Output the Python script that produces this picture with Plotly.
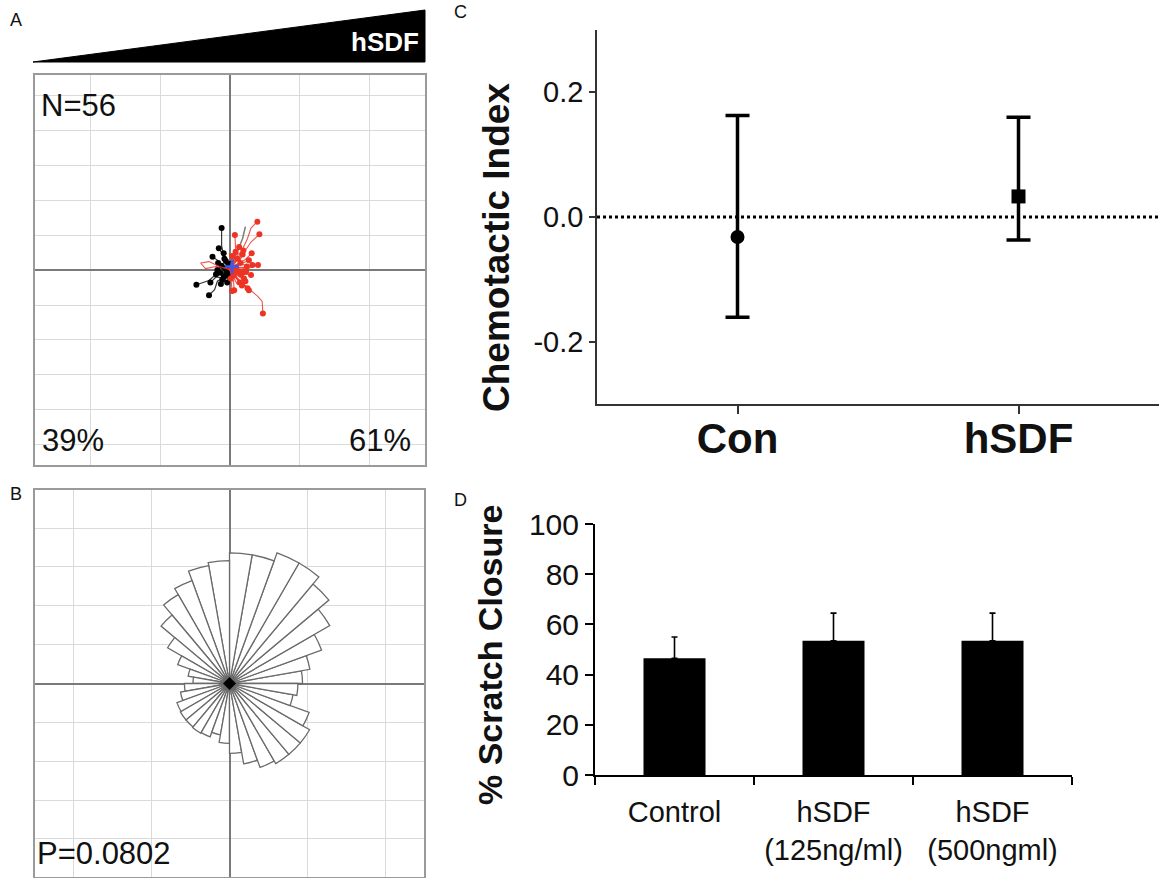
import plotly.graph_objects as go

W, H = 1159, 878

# ---------------- Panel A: cell trajectories (µm, start at origin) ----------------
black_tracks_x = [
    [0, -6, -10, -12, -12], [0, -5, -9, -16], [0, -8, -15, -25], [0, -10, -22, -30, -48],
    [0, -8, -18, -22, -30], [0, -6, -12], [0, -4, -9], [0, -7, -14], [0, -3, -6],
    [0, -5, -11], [0, -9, -18], [0, -2, -4], [0, -6, -8], [0, -10, -20], [0, -3, -7],
    [0, -5, -3], [0, -12, -17], [0, -4, -13], [0, -2, -1], [0, -8, -20, -28],
    [0, -6, -9], [0, -3, -5],
]
black_tracks_y = [
    [0, 10, 25, 35, 60], [0, 8, 20, 31], [0, 3, 12, 19], [0, -5, -8, -15, -21],
    [0, -10, -16, -28, -36], [0, 4, 6], [0, -6, -10], [0, -2, -4], [0, 5, 13],
    [0, -3, -14], [0, 2, 0], [0, -8, -18], [0, 8, 16], [0, -6, -6], [0, 3, 2],
    [0, -4, -8], [0, 8, 10], [0, -10, -20], [0, 4, 9], [0, -12, -10, -18],
    [0, 12, 24], [0, -2, -4],
]
gray_track_x = [0, 5, 12, 18, 22]
gray_track_y = [0, 15, 30, 45, 62]
red_tracks_x = [
    [0, 10, 18, 25, 30, 39], [0, 12, 20, 30, 42], [0, 3, 8, 7], [0, 10, 25, 40, 46, 47],
    [0, 4, 2, 3], [0, 8, 18, 27], [0, 12, 22, 30], [0, 15, 28, 40], [0, 10, 22, 31],
    [0, 4, 6, 8], [0, -15, -30, -42, -35, -20, 4], [0, 10, 20], [0, 8, 15], [0, 5, 6],
    [0, 12, 25], [0, 14, 27], [0, 18, 32], [0, 6, 12], [0, 4, 9], [0, 10, 18],
    [0, 7, 14], [0, 3, 5], [0, 9, 20], [0, 2, 3], [0, 12, 23], [0, 6, 11], [0, 15, 24],
    [0, 5, 16], [0, 8, 13], [0, 2, 1], [0, 10, 17], [0, 16, 22], [0, 6, 8], [0, 11, 19],
]
red_tracks_y = [
    [0, 15, 30, 45, 60, 69], [0, 10, 25, 40, 51], [0, 15, 30, 50], [0, -12, -25, -38, -45, -62],
    [0, -10, -20, -30], [0, -8, -20, -29], [0, -2, -6, -7], [0, 4, 3, 7], [0, 8, 15, 24],
    [0, 8, 18, 26], [0, 5, 12, 10, 2, 5, 2], [0, -6, -12], [0, 5, 10], [0, -15, -29],
    [0, -15, -26], [0, 8, 14], [0, 2, 7], [0, -4, -2], [0, 6, 4], [0, 14, 22],
    [0, -10, -18], [0, -3, -8], [0, 0, -3], [0, 10, 20], [0, -5, -2], [0, 12, 16], [0, 10, 5],
    [0, -8, -6], [0, 20, 33], [0, -5, -12], [0, -20, -22], [0, -12, -16], [0, 3, -1], [0, 22, 28],
]
center_of_mass_x = [3]
center_of_mass_y = [5]

# ---------------- Panel B: rose plot (10° bins) ----------------
rose_theta = [5, 15, 25, 35, 45, 55, 65, 75, 85, 95, 105, 115, 125, 135, 145, 155, 165, 175,
              185, 195, 205, 215, 225, 235, 245, 255, 265, 275, 285, 295, 305, 315, 325, 335, 345, 355]
rose_r = [0.94, 1.05, 1.26, 1.49, 1.67, 1.79, 1.79, 1.68, 1.68, 1.58, 1.54, 1.41, 1.32, 1.15, 0.92, 0.71, 0.54, 0.47,
          0.58, 0.64, 0.72, 0.73, 0.73, 0.74, 0.73, 0.67, 0.77, 0.90, 1.05, 1.15, 1.19, 1.19, 1.19, 1.09, 0.83, 0.88]

# ---------------- Panel C: chemotactic index ----------------
chemo_groups = ["Con", "hSDF"]
chemo_mean = [-0.032, 0.033]
chemo_upper = [0.163, 0.160]
chemo_lower = [-0.161, -0.037]
chemo_symbols = ["circle", "square"]

# ---------------- Panel D: scratch closure ----------------
scratch_groups = ["Control", "hSDF<br>(125ng/ml)", "hSDF<br>(500ngml)"]
scratch_mean = [46.5, 53.5, 53.5]
scratch_err = [8.5, 11.0, 11.0]

FONT = "Liberation Sans, Arial, sans-serif"


def px(xp):
    return xp / W


def py(yp):
    return 1 - yp / H


def joined(xs_list, ys_list):
    X, Y = [], []
    for xs, ys in zip(xs_list, ys_list):
        X += list(xs) + [None]
        Y += list(ys) + [None]
    return X, Y


fig = go.Figure()

# --- A traces
bx, by = joined(black_tracks_x, black_tracks_y)
fig.add_trace(go.Scatter(x=bx, y=by, mode="lines", line=dict(color="rgba(20,20,20,0.85)", width=1.2),
                         xaxis="x", yaxis="y", hoverinfo="skip"))
fig.add_trace(go.Scatter(x=gray_track_x, y=gray_track_y, mode="lines",
                         line=dict(color="rgba(110,110,110,0.9)", width=1.5), xaxis="x", yaxis="y"))
fig.add_trace(go.Scatter(x=[t[-1] for t in black_tracks_x], y=[t[-1] for t in black_tracks_y], mode="markers",
                         marker=dict(color="black", size=6), xaxis="x", yaxis="y"))
rx, ry = joined(red_tracks_x, red_tracks_y)
fig.add_trace(go.Scatter(x=rx, y=ry, mode="lines", line=dict(color="rgba(235,55,40,0.85)", width=1.1),
                         xaxis="x", yaxis="y"))
fig.add_trace(go.Scatter(x=[t[-1] for t in red_tracks_x], y=[t[-1] for t in red_tracks_y], mode="markers",
                         marker=dict(color="#ec3324", size=6), xaxis="x", yaxis="y"))
fig.add_trace(go.Scatter(x=center_of_mass_x, y=center_of_mass_y, mode="markers",
                         marker=dict(symbol="cross-thin", size=10, line=dict(color="#2a5cff", width=2.5)),
                         xaxis="x", yaxis="y"))

# --- B: cartesian frame (origin marker) + rose
fig.add_trace(go.Scatter(x=[0], y=[0], mode="markers", marker=dict(size=1, color="rgba(0,0,0,0)"),
                         xaxis="x2", yaxis="y2", hoverinfo="skip"))
fig.add_trace(go.Barpolar(r=rose_r, theta=rose_theta, width=[10] * len(rose_theta),
                          marker=dict(color="white", line=dict(color="#6a6a6a", width=1.3)),
                          subplot="polar"))
fig.add_trace(go.Scatterpolar(r=[0], theta=[0], mode="markers",
                              marker=dict(symbol="diamond", size=10, color="black"), subplot="polar"))

# --- C
for g, m, up, lo, sym in zip(chemo_groups, chemo_mean, chemo_upper, chemo_lower, chemo_symbols):
    fig.add_trace(go.Scatter(x=[g], y=[m], mode="markers", xaxis="x3", yaxis="y3",
                             marker=dict(symbol=sym, size=14, color="black"),
                             error_y=dict(type="data", symmetric=False, array=[up - m], arrayminus=[m - lo],
                                          color="black", thickness=3.5, width=12)))

# --- D
fig.add_trace(go.Bar(x=scratch_groups, y=scratch_mean, xaxis="x4", yaxis="y4", width=0.39,
                     marker=dict(color="black", line=dict(width=0)),
                     error_y=dict(type="data", symmetric=False, array=scratch_err,
                                  arrayminus=[0] * len(scratch_err), color="black", thickness=1.6, width=3)))

grid_common = dict(showgrid=True, gridcolor="#dadada", gridwidth=1, zeroline=True, zerolinecolor="#7a7a7a",
                   zerolinewidth=1.5, showticklabels=False, ticks="", showline=True, mirror=True,
                   linecolor="#9a9a9a", linewidth=1.5, fixedrange=True)

fig.update_layout(
    width=W, height=H, margin=dict(l=0, r=0, t=0, b=0, autoexpand=False), paper_bgcolor="white",
    plot_bgcolor="white",
    showlegend=False, font=dict(family=FONT, color="#111"),
    xaxis=dict(domain=[px(35), px(425)], range=[-278.6, 278.6], dtick=100, tick0=0, anchor="y", **grid_common),
    yaxis=dict(domain=[py(465), py(75)], range=[-278.6, 278.6], dtick=50, tick0=0, anchor="x", **grid_common),
    xaxis2=dict(domain=[px(35), px(424)], range=[-2.49, 2.49], dtick=1, tick0=0, anchor="y2", **grid_common),
    yaxis2=dict(domain=[py(877), py(490)], range=[-2.49, 2.49], dtick=0.5, tick0=0, anchor="x2", **grid_common),
    polar=dict(domain=dict(x=[px(35), px(424)], y=[py(877), py(490)]), bgcolor="rgba(0,0,0,0)", bargap=0,
               radialaxis=dict(visible=False, range=[0, 2.49]),
               angularaxis=dict(visible=False, direction="counterclockwise", rotation=0)),
    xaxis3=dict(domain=[px(597), 1.0], type="category", range=[-0.5, 1.5], anchor="y3",
                showline=True, linecolor="#333", linewidth=1.5, ticks="outside", ticklen=8, tickwidth=1.5,
                tickcolor="#333", showgrid=False, zeroline=False, fixedrange=True, ticklabelstandoff=-11,
                tickfont=dict(family=FONT, size=42, color="#111", weight="bold")),
    yaxis3=dict(domain=[py(404), py(30)], range=[-0.3, 0.3], anchor="x3", tickvals=[-0.2, 0.0, 0.2],
                ticktext=["-0.2", "0.0", "0.2"], showline=True, linecolor="#333", linewidth=1.5,
                ticks="outside", ticklen=6, tickwidth=1.5, tickcolor="#333", showgrid=False, zeroline=False,
                fixedrange=True, tickfont=dict(family=FONT, size=29, color="#111")),
    xaxis4=dict(domain=[px(595), px(1072)], type="category", range=[-0.5, 2.5], anchor="y4",
                tickson="boundaries", showline=True, linecolor="black", linewidth=2, ticks="outside",
                ticklen=8, tickwidth=2, tickcolor="black", showgrid=False, zeroline=False, fixedrange=True,
                ticklabelstandoff=10, tickfont=dict(family=FONT, size=29, color="#111")),
    yaxis4=dict(domain=[py(775), py(524)], range=[0, 100], dtick=20, anchor="x4", showline=True,
                linecolor="black", linewidth=2, ticks="outside", ticklen=8, tickwidth=2, tickcolor="black",
                showgrid=False, zeroline=False, fixedrange=True, tickfont=dict(family=FONT, size=30, color="#111")),
)

# zero reference line in C
fig.add_shape(type="line", xref="x3 domain", yref="y3", x0=0, x1=1, y0=0, y1=0,
              line=dict(color="black", width=3, dash="dot"))

# gradient wedge above A
fig.add_shape(type="path", xref="paper", yref="paper",
              path=f"M {px(33)},{py(62)} L {px(425)},{py(10)} L {px(425)},{py(62)} Z",
              fillcolor="black", line=dict(color="black", width=1))


def ann(text, x, y, size, xanchor="left", color="#111", bold=False, angle=0):
    fig.add_annotation(text=text, x=px(x), y=py(y), xref="paper", yref="paper", showarrow=False,
                       xanchor=xanchor, yanchor="middle", textangle=angle,
                       font=dict(family=FONT, size=size, color=color, weight="bold" if bold else "normal"))


ann("A", 8, 20, 18)
ann("B", 8, 494, 18)
ann("C", 452, 12, 18)
ann("D", 452, 500, 18)
ann("hSDF", 421, 42, 26, xanchor="right", color="white", bold=True)
ann("N=56", 39, 106, 31)
ann("39%", 40, 440, 31)
ann("61%", 413, 440, 31, xanchor="right")
ann("P=0.0802", 35, 853, 31)
ann("Chemotactic Index", 497, 248, 37, xanchor="center", bold=True, angle=-90)
ann("% Scratch Closure", 490, 655, 34, xanchor="center", bold=True, angle=-90)

fig.write_html(
    "out.html",
    config={"responsive": False, "displayModeBar": False},
    post_script="document.body.style.margin='0';document.body.style.padding='0';"
                "document.body.style.overflow='hidden';",
)
